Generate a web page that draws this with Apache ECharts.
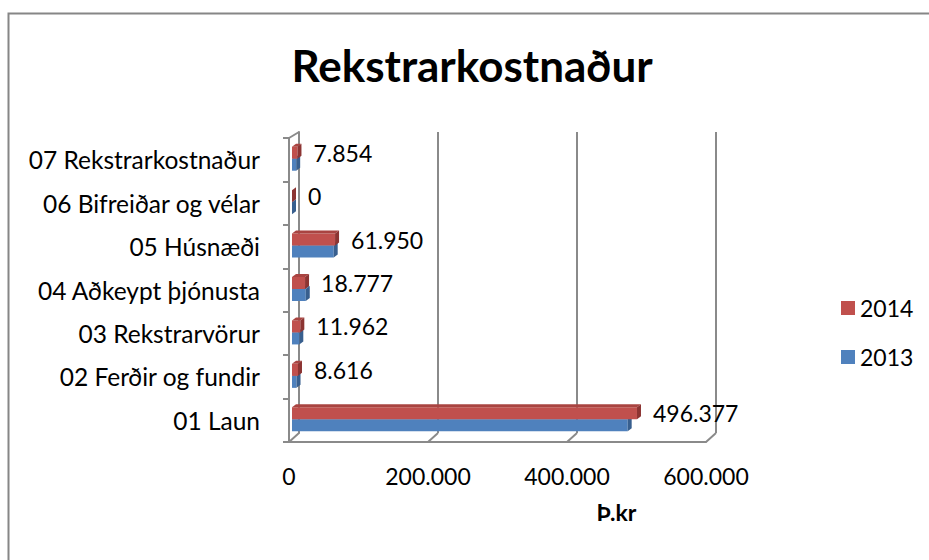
<!DOCTYPE html>
<html>
<head>
<meta charset="utf-8">
<script src="https://cdn.jsdelivr.net/npm/echarts@6/dist/echarts.min.js"></script>
<style>
  html, body { margin: 0; padding: 0; background: #fff; }
  #chart { width: 929px; height: 560px; }
</style>
</head>
<body>
<div id="chart"></div>
<script>
// data (thousand kr)
const categories = ['01 Laun', '02 Ferðir og fundir', '03 Rekstrarvörur', '04 Aðkeypt þjónusta',
  '05 Húsnæði', '06 Bifreiðar og vélar', '07 Rekstrarkostnaður'];
const values2014 = [496377, 8616, 11962, 18777, 61950, 0, 7854];
const values2013 = [483000, 6500, 10500, 19800, 60000, 0, 6000];
const xTicks = [0, 200000, 400000, 600000];

const FONT = 'Lato';
const GRID_COLOR = '#8a8a8a';
const BAR_H = 12;
const DX = 4, DY = 3;
const colors = {
  '2014': { front: '#C0504D', top: '#A94441', side: '#8C3432' },
  '2013': { front: '#4F81BD', top: '#4572A8', side: '#385F8E' }
};

function fmt(v) {
  return String(v).replace(/\B(?=(\d{3})+(?!\d))/g, '.');
}

function bar3d(name, above, showLabel) {
  const c = colors[name];
  return function (params, api) {
    const v = api.value(0);
    const cat = api.value(1);
    const p0 = api.coord([0, cat]);
    const p1 = api.coord([v, cat]);
    const y = above ? p0[1] - BAR_H : p0[1];
    const x0 = p0[0], x1 = p1[0];
    const children = [
      { type: 'rect', shape: { x: x0, y: y, width: x1 - x0, height: BAR_H }, style: { fill: c.front } },
      { type: 'polygon', shape: { points: [[x0, y], [x1, y], [x1 + DX, y - DY], [x0 + DX, y - DY]] }, style: { fill: c.top } },
      { type: 'polygon', shape: { points: [[x1, y], [x1 + DX, y - DY], [x1 + DX, y + BAR_H - DY], [x1, y + BAR_H]] }, style: { fill: c.side } }
    ];
    if (showLabel) {
      children.push({
        type: 'text',
        style: {
          x: x1 + DX + 12, y: y + BAR_H / 2,
          text: fmt(v), fill: '#000', font: '23px ' + FONT,
          verticalAlign: 'middle', align: 'left'
        }
      });
    }
    return { type: 'group', children: children };
  };
}

// floor/wall edges joining the front axes to the back wall
function edges(params, api) {
  const v = api.value(0);
  const cs = params.coordSys;
  const x = api.coord([v, 0])[0];
  const floor = cs.y + cs.height;
  const lines = [
    { type: 'line', shape: { x1: x, y1: floor, x2: x + 10, y2: floor - 9 }, style: { stroke: GRID_COLOR, lineWidth: 2 } }
  ];
  if (v === 0) {
    lines.push({ type: 'line', shape: { x1: x, y1: cs.y, x2: x + 10, y2: cs.y - 6 }, style: { stroke: GRID_COLOR, lineWidth: 2 } });
  }
  return { type: 'group', children: lines };
}

const chart = echarts.init(document.getElementById('chart'), null, { renderer: 'svg' });

const option = {
  animation: false,
  textStyle: { fontFamily: FONT },
  title: {
    text: 'Rekstrarkostnaður',
    left: 472, top: 43, textAlign: 'center', padding: 0,
    textStyle: { fontSize: 44, fontWeight: 'bold', color: '#000', fontFamily: FONT }
  },
  legend: {
    data: ['2014', '2013'],
    orient: 'vertical',
    left: 836, top: 291,
    icon: 'rect', itemWidth: 14, itemHeight: 14, itemGap: 25,
    textStyle: { fontSize: 23, color: '#000', fontFamily: FONT, lineHeight: 24 }
  },
  graphic: [
    { type: 'rect', left: 6, top: 11, shape: { width: 1000, height: 1000 }, style: { fill: 'none', stroke: '#868686', lineWidth: 2 }, silent: true }
  ],
  grid: [
    { left: 292, right: 220, top: 137, bottom: 119 },  // bars
    { left: 289, right: 223, top: 138, bottom: 118 },  // front axes
    { left: 299, right: 213, top: 132, bottom: 127 }   // back wall
  ],
  xAxis: [
    { gridIndex: 0, type: 'value', min: 0, max: 600000, interval: 200000, show: false },
    {
      gridIndex: 1, type: 'value', min: 0, max: 600000, interval: 200000,
      axisLine: { show: true, lineStyle: { color: GRID_COLOR, width: 2 } },
      axisTick: { show: false }, splitLine: { show: false },
      axisLabel: { margin: 22, fontSize: 23, color: '#000', fontFamily: FONT, formatter: fmt },
      name: 'Þ.kr', nameLocation: 'middle', nameGap: 58,
      nameTextStyle: { fontSize: 23, fontWeight: 'bold', color: '#000', fontFamily: FONT, padding: [0, 0, 0, 238] }
    },
    {
      gridIndex: 2, type: 'value', min: 0, max: 600000, interval: 200000,
      axisLine: { show: false }, axisTick: { show: false }, axisLabel: { show: false },
      splitLine: { show: true, lineStyle: { color: GRID_COLOR, width: 2 } }
    }
  ],
  yAxis: [
    { gridIndex: 0, type: 'category', data: categories, show: false },
    {
      gridIndex: 1, type: 'category', data: categories,
      axisLine: { show: true, lineStyle: { color: GRID_COLOR, width: 2 } },
      axisTick: { show: true, length: 6, lineStyle: { color: GRID_COLOR, width: 2 } },
      axisLabel: { margin: 29, fontSize: 24.5, color: '#000', fontFamily: FONT }
    },
    {
      gridIndex: 2, type: 'category', data: categories,
      axisLine: { show: true, lineStyle: { color: GRID_COLOR, width: 2 } },
      axisTick: { show: false }, axisLabel: { show: false }
    }
  ],
  series: [
    {
      name: '2013', type: 'custom', xAxisIndex: 0, yAxisIndex: 0,
      itemStyle: { color: colors['2013'].front },
      renderItem: bar3d('2013', false, false),
      encode: { x: 0, y: 1 },
      data: values2013.map((v, i) => [v, i]),
      z: 3
    },
    {
      name: '2014', type: 'custom', xAxisIndex: 0, yAxisIndex: 0,
      itemStyle: { color: colors['2014'].front },
      renderItem: bar3d('2014', true, true),
      encode: { x: 0, y: 1 },
      data: values2014.map((v, i) => [v, i]),
      z: 4
    },
    {
      type: 'custom', xAxisIndex: 1, yAxisIndex: 1, silent: true,
      renderItem: edges,
      encode: { x: 0 },
      data: xTicks.map(v => [v]),
      z: 1
    }
  ]
};

chart.setOption(option);
</script>
</body>
</html>
